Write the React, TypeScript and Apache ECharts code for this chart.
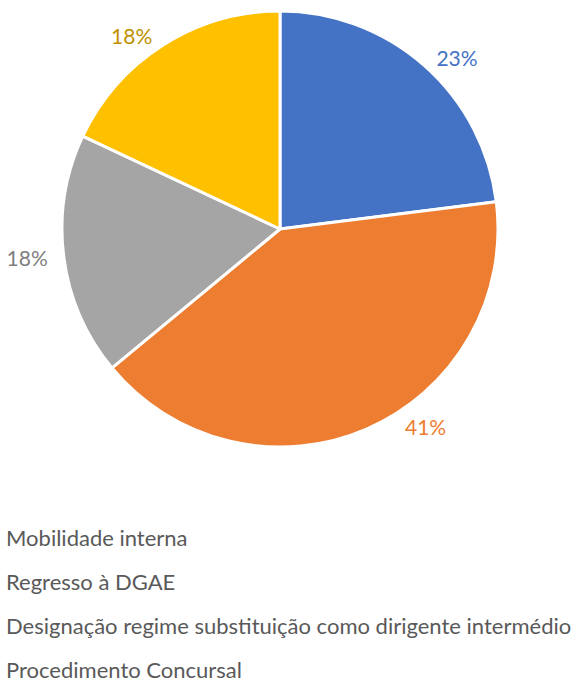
import React, { useEffect, useRef } from "react";
import * as echarts from "echarts";

const categories = [
  "Mobilidade interna",
  "Regresso à DGAE",
  "Designação regime substituição como dirigente intermédio",
  "Procedimento Concursal",
];
const values = [23, 41, 18, 18];
const sliceColors = ["#4472C4", "#ED7D31", "#A5A5A5", "#FFC000"];
const labelColors = ["#4472C4", "#ED7D31", "#7F7F7F", "#BF9000"];

export default function App() {
  const ref = useRef<HTMLDivElement>(null);
  useEffect(() => {
    document.body.style.margin = "0";
    const chart = echarts.init(ref.current!, null, { renderer: "svg" });
    chart.setOption({
      animation: false,
      backgroundColor: "#ffffff",
      legend: {
        orient: "vertical",
        left: 0,
        top: 524,
        height: 300,
        padding: 0,
        icon: "rect",
        itemWidth: 0,
        itemHeight: 24,
        itemGap: 18,
        textStyle: { fontFamily: "Lato", fontSize: 22, color: "#595959" },
        data: categories,
      },
      series: [
        {
          type: "pie",
          center: [280, 229],
          radius: 218,
          startAngle: 90,
          clockwise: true,
          avoidLabelOverlap: false,
          itemStyle: { borderColor: "#ffffff", borderWidth: 3 },
          label: {
            show: true,
            position: "outside",
            formatter: "{c}%",
            fontFamily: "Lato",
            fontSize: 21,
          },
          labelLine: { show: false, length: 11, length2: 0 },
          labelLayout: (p: any) =>
            p.dataIndex === 1 ? { dx: 29, dy: -13 } : {},
          data: categories.map((name, i) => ({
            name,
            value: values[i],
            itemStyle: { color: sliceColors[i] },
            label: { color: labelColors[i] },
          })),
        },
      ],
    });
    return () => chart.dispose();
  }, []);
  return <div ref={ref} style={{ width: 579, height: 682 }} />;
}
